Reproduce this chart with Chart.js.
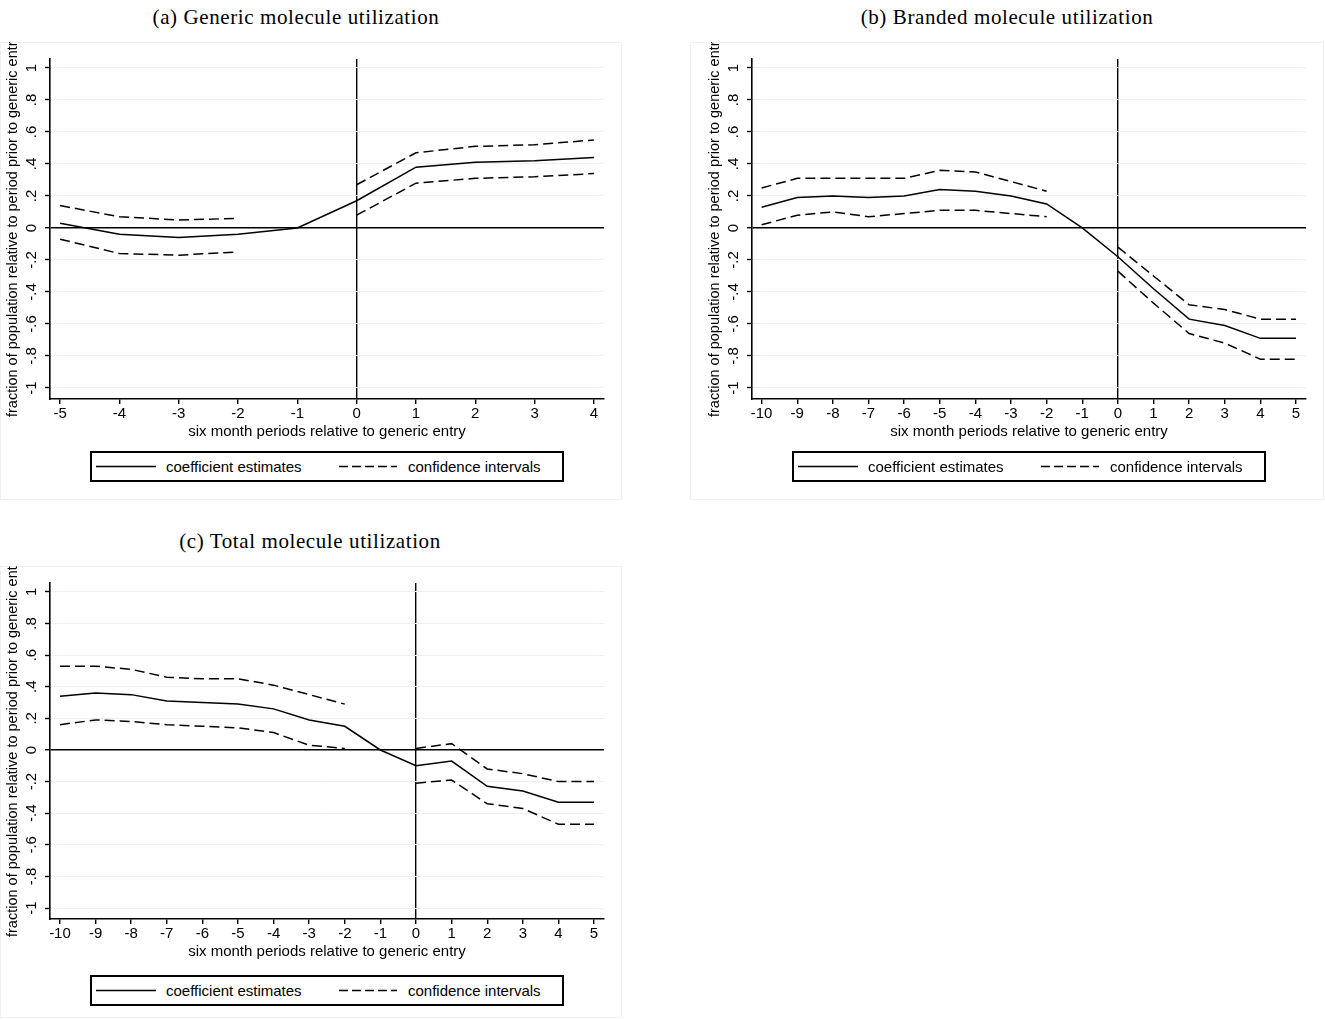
<!DOCTYPE html>
<html><head><meta charset="utf-8">
<script src="https://cdn.jsdelivr.net/npm/chart.js@4.4.1/dist/chart.umd.min.js"></script>
<style>
html,body{margin:0;padding:0;background:#fff;overflow:hidden;width:1325px;height:1020px;}
.frame{position:absolute;border:1px solid #edf2f3;box-sizing:border-box;}
.cv{position:absolute;}
.ptitle{position:absolute;font-family:"Liberation Serif","DejaVu Serif",serif;font-size:21px;letter-spacing:0.6px;line-height:22px;color:#000;white-space:nowrap;transform:translateX(-50%);}
.legend{position:absolute;border:2px solid #000;box-sizing:border-box;background:#fff;font-family:"Liberation Sans",Arial,sans-serif;font-size:15px;color:#000;}
.legend svg{position:absolute;left:0;top:0;}
.legend span{position:absolute;white-space:nowrap;line-height:16px;}
</style></head>
<body>
<div class="frame" style="left:0;top:42px;width:622px;height:458px"></div>
<div class="frame" style="left:690px;top:42px;width:634px;height:458px"></div>
<div class="frame" style="left:0;top:566px;width:622px;height:452px"></div>
<div class="ptitle" style="left:296px;top:6px">(a) Generic molecule utilization</div>
<div class="ptitle" style="left:1007px;top:6px">(b) Branded molecule utilization</div>
<div class="ptitle" style="left:310px;top:530px">(c) Total molecule utilization</div>
<canvas id="ca" class="cv" width="622" height="458" style="left:0;top:42px"></canvas>
<canvas id="cb" class="cv" width="622" height="458" style="left:702px;top:42px"></canvas>
<canvas id="cc" class="cv" width="622" height="454" style="left:0;top:566px"></canvas>
<div id="legends"></div>
<script>
// ---- data ----
const periodsA = [-5, -4, -3, -2, -1, 0, 1, 2, 3, 4];
const coefA  = [0.03, -0.04, -0.06, -0.04, 0, 0.17, 0.38, 0.41, 0.42, 0.44];
const upperA = [0.14, 0.07, 0.05, 0.06, null, 0.27, 0.47, 0.51, 0.52, 0.55];
const lowerA = [-0.07, -0.16, -0.17, -0.15, null, 0.08, 0.28, 0.31, 0.32, 0.34];

const periodsB = [-10, -9, -8, -7, -6, -5, -4, -3, -2, -1, 0, 1, 2, 3, 4, 5];
const coefB  = [0.13, 0.19, 0.20, 0.19, 0.20, 0.24, 0.23, 0.20, 0.15, 0, -0.18, -0.38, -0.57, -0.61, -0.69, -0.69];
const upperB = [0.25, 0.31, 0.31, 0.31, 0.31, 0.36, 0.35, 0.29, 0.23, null, -0.12, -0.30, -0.48, -0.51, -0.57, -0.57];
const lowerB = [0.02, 0.08, 0.10, 0.07, 0.09, 0.11, 0.11, 0.09, 0.07, null, -0.27, -0.47, -0.66, -0.72, -0.82, -0.82];

const periodsC = [-10, -9, -8, -7, -6, -5, -4, -3, -2, -1, 0, 1, 2, 3, 4, 5];
const coefC  = [0.34, 0.36, 0.35, 0.31, 0.30, 0.29, 0.26, 0.19, 0.15, 0, -0.10, -0.07, -0.23, -0.26, -0.33, -0.33];
const upperC = [0.53, 0.53, 0.51, 0.46, 0.45, 0.45, 0.41, 0.35, 0.29, null, 0.01, 0.04, -0.12, -0.15, -0.20, -0.20];
const lowerC = [0.16, 0.19, 0.18, 0.16, 0.15, 0.14, 0.11, 0.03, 0.01, null, -0.21, -0.19, -0.34, -0.37, -0.47, -0.47];

const yTickValues = [-1, -0.8, -0.6, -0.4, -0.2, 0, 0.2, 0.4, 0.6, 0.8, 1];
const yTickLabels = ["-1", "-.8", "-.6", "-.4", "-.2", "0", ".2", ".4", ".6", ".8", "1"];
const xTitle = "six month periods relative to generic entry";
const yTitle = "fraction of population relative to period prior to generic entry";
const legendLabels = ["coefficient estimates", "confidence intervals"];

// ---- helpers ----
const SANS = '"Liberation Sans", Arial, sans-serif';
const yTitlePlugin = {
  id: 'ytitle',
  afterDraw(chart) {
    const ca = chart.chartArea, ctx = chart.ctx;
    ctx.save();
    ctx.translate(ca.left - 37, ca.bottom + 18);
    ctx.rotate(-Math.PI / 2);
    ctx.font = '14.5px ' + SANS;
    ctx.fillStyle = '#000';
    ctx.textAlign = 'left';
    ctx.textBaseline = 'middle';
    ctx.fillText(yTitle, 0, 0);
    ctx.restore();
  }
};

function pts(xs, ys) { return xs.map((x, i) => ({x: x, y: ys[i]})); }

function makeChart(id, periods, coef, upper, lower, xmin, xmax) {
  const ds = (data, dash) => ({
    data: pts(periods, data), borderColor: '#000', borderWidth: 1.5, borderDash: dash,
    pointRadius: 0, tension: 0, fill: false, spanGaps: false, borderCapStyle: 'butt'
  });
  return new Chart(document.getElementById(id), {
    type: 'line',
    data: { datasets: [ds(coef, []), ds(upper, [10, 5]), ds(lower, [10, 5])] },
    plugins: [yTitlePlugin],
    options: {
      responsive: false, animation: false, events: [],
      layout: { padding: { left: 0, right: 18, top: 17, bottom: 0 } },
      plugins: { legend: { display: false }, tooltip: { enabled: false } },
      scales: {
        x: {
          type: 'linear', min: xmin, max: xmax,
          afterBuildTicks: s => { s.ticks = periods.map(v => ({ value: v })); },
          afterFit: s => { s.height = 101; },
          ticks: { color: '#000', font: { family: SANS, size: 15 }, padding: 1, minRotation: 0, maxRotation: 0, autoSkip: false,
                   callback: v => String(v) },
          grid: { drawOnChartArea: true,
                  color: c => (c.tick && c.tick.value === 0) ? '#000' : 'rgba(0,0,0,0)',
                  lineWidth: 1.4, tickLength: 5, tickColor: '#000', tickWidth: 1.4 },
          border: { display: true, color: '#000', width: 1.6 },
          title: { display: true, text: xTitle, color: '#000', font: { family: SANS, size: 15, lineHeight: 1.2 },
                   padding: { top: 0, bottom: 59 } }
        },
        y: {
          type: 'linear', min: -1.069, max: 1.056,
          afterBuildTicks: s => { s.ticks = yTickValues.map(v => ({ value: v })); },
          afterFit: s => { s.width = 50; },
          ticks: { color: '#000', font: { family: SANS, size: 15 }, padding: 4, minRotation: 90, maxRotation: 90,
                   crossAlign: 'center', autoSkip: false,
                   callback: v => { const i = yTickValues.findIndex(t => Math.abs(t - v) < 1e-9); return i >= 0 ? yTickLabels[i] : ''; } },
          grid: { color: c => (c.tick && Math.abs(c.tick.value) < 1e-9) ? '#000' : '#eaf1f2',
                  lineWidth: c => (c.tick && Math.abs(c.tick.value) < 1e-9) ? 1.4 : 1,
                  tickLength: 5, tickColor: '#000', tickWidth: 1.4 },
          border: { display: true, color: '#000', width: 1.6 }
        }
      }
    }
  });
}

makeChart('ca', periodsA, coefA, upperA, lowerA, -5.17, 4.17);
makeChart('cb', periodsB, coefB, upperB, lowerB, -10.27, 5.28);
makeChart('cc', periodsC, coefC, upperC, lowerC, -10.28, 5.28);

// ---- legends ----
function legend(left, top) {
  const d = document.createElement('div');
  d.className = 'legend';
  d.style.left = left + 'px'; d.style.top = top + 'px';
  d.style.width = '474px'; d.style.height = '31px';
  d.innerHTML =
    '<svg width="474" height="31">' +
    '<line x1="4" y1="13.5" x2="64" y2="13.5" stroke="#000" stroke-width="1.5"/>' +
    '<line x1="247" y1="13.5" x2="305" y2="13.5" stroke="#000" stroke-width="1.5" stroke-dasharray="9,4"/>' +
    '</svg>' +
    '<span style="left:74px;top:6px">' + legendLabels[0] + '</span>' +
    '<span style="left:316px;top:6px">' + legendLabels[1] + '</span>';
  document.getElementById('legends').appendChild(d);
}
legend(90, 451);
legend(792, 451);
legend(90, 975);
</script>
</body></html>
